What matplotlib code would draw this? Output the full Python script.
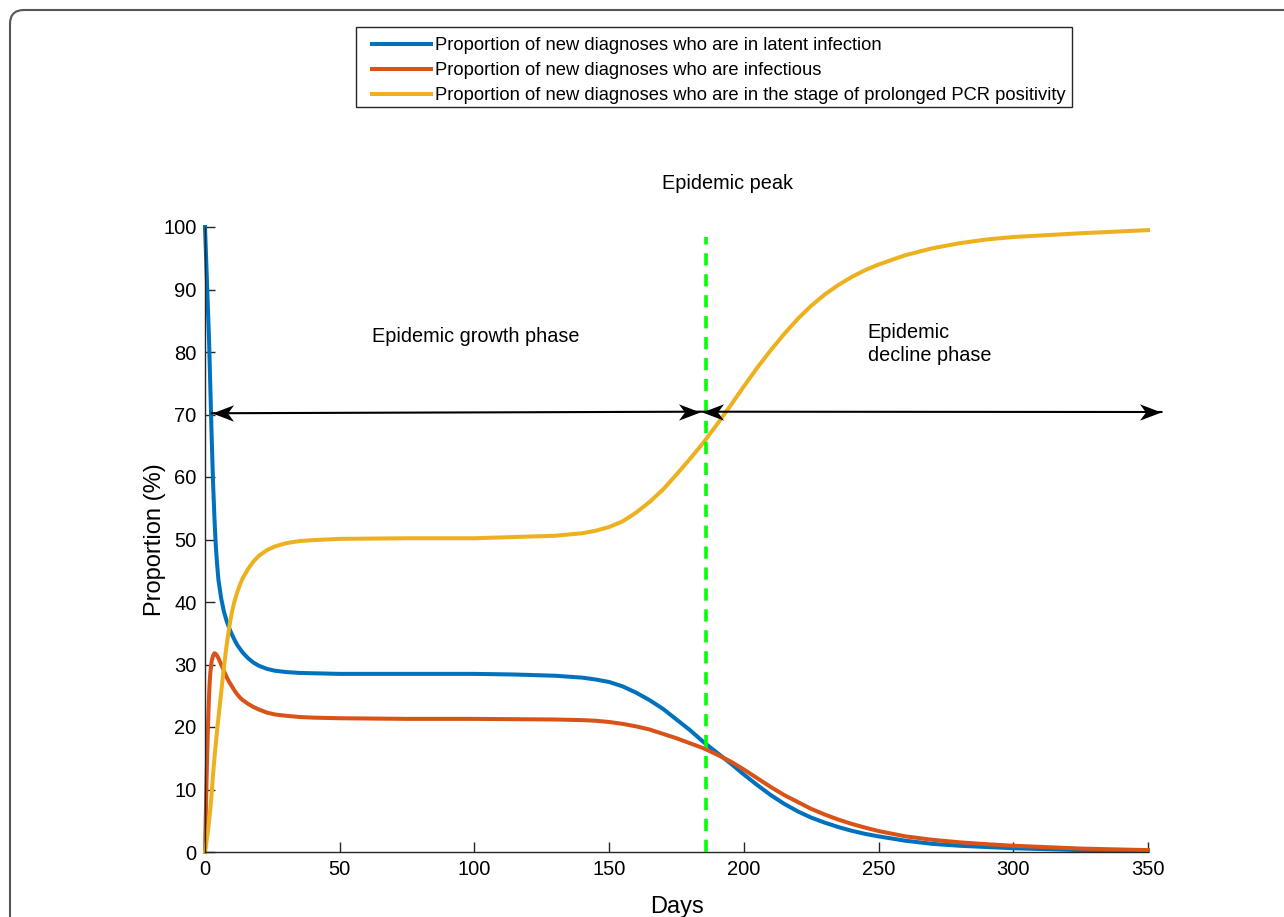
import matplotlib
matplotlib.use("Agg")
import matplotlib.pyplot as plt
from matplotlib.path import Path
from matplotlib.patches import FancyBboxPatch, Rectangle
from matplotlib.transforms import IdentityTransform

plt.rcParams['font.family'] = ['Liberation Sans', 'DejaVu Sans']

# ---- data ----
days = [0, 0.25, 0.5, 0.75, 1, 1.25, 1.5, 1.75, 2, 2.5, 3, 3.5, 4, 4.5, 5, 6, 7, 8, 9,
        10, 11, 12, 13, 14, 16, 18, 20, 23, 26, 30, 35, 40, 50, 75, 100, 115,
        130, 140, 145, 150, 155, 160, 165, 170, 175, 180,
        185, 190, 195, 200, 205, 210, 215, 220, 225, 230,
        235, 240, 245, 250, 260, 270, 280, 290, 300, 325, 350]

latent = [100, 97, 94, 91, 88, 85, 82, 78, 74, 66, 59, 53.5, 49, 46, 43.5, 40.6, 38.5,
          37, 35.8, 34.8, 33.9, 33.1, 32.5, 31.9, 31.0, 30.3, 29.8, 29.3, 29.0, 28.8,
          28.65, 28.6, 28.5, 28.5, 28.5, 28.4,
          28.2, 27.9, 27.6, 27.2, 26.5, 25.5, 24.3, 22.9, 21.2, 19.5,
          17.6, 15.9, 14.2, 12.4, 10.7, 9.1, 7.7, 6.5, 5.5, 4.7,
          4.0, 3.4, 2.9, 2.5, 1.8, 1.3, 1.0, 0.8, 0.6, 0.3, 0.2]

infectious = [0, 5, 10, 14.5, 18.5, 22, 25, 27.3, 28.8, 30.6, 31.4, 31.8, 31.7, 31.4,
              31.0, 30.0, 29.0, 28.0, 27.2, 26.5, 25.8, 25.2, 24.7, 24.3, 23.7, 23.2,
              22.8, 22.3, 22.0, 21.8, 21.6, 21.5, 21.4, 21.3, 21.3, 21.25,
              21.2, 21.1, 21.0, 20.8, 20.5, 20.1, 19.6, 18.9, 18.2, 17.4,
              16.6, 15.6, 14.5, 13.2, 11.8, 10.4, 9.1, 8.0, 6.9, 6.0,
              5.2, 4.5, 3.9, 3.35, 2.5, 1.95, 1.55, 1.25, 1.0, 0.55, 0.3]

prolonged = [0, 0.7, 1.5, 2.3, 3.1, 4, 5, 6, 7, 9.5, 12.5, 15, 17.3, 19.5, 21.5, 25.5,
             29.5, 33, 36, 38.4, 40.2, 41.6, 42.8, 43.8, 45.3, 46.5, 47.4, 48.3, 48.9,
             49.4, 49.75, 49.9, 50.1, 50.2, 50.2, 50.4,
             50.6, 51.0, 51.4, 52.0, 52.9, 54.3, 56.0, 58.0, 60.4, 62.9,
             65.5, 68.4, 71.4, 74.5, 77.5, 80.3, 82.9, 85.3, 87.4, 89.2,
             90.7, 92.0, 93.1, 94.0, 95.5, 96.6, 97.4, 98.0, 98.4, 99.0, 99.5]

labels = ["Proportion of new diagnoses who are in latent infection",
          "Proportion of new diagnoses who are infectious",
          "Proportion of new diagnoses who are in the stage of prolonged PCR positivity"]
colors = ["#0072BD", "#D95319", "#EDB120"]

peak_day = 186
xticks = [0, 50, 100, 150, 200, 250, 300, 350]
yticks = [0, 10, 20, 30, 40, 50, 60, 70, 80, 90, 100]

# ---- figure ----
W, H = 1284, 917
fig = plt.figure(figsize=(W/100, H/100), dpi=100)
ax = fig.add_axes([205/W, 1-852/H, (1148-205)/W, (852-227)/H])

# rounded outer frame
frame = FancyBboxPatch((10, -40), 1320, H-10+40, boxstyle="round,pad=0,rounding_size=14",
                       transform=IdentityTransform(), fill=False, edgecolor="#555555",
                       linewidth=1.5, zorder=0)
fig.patches.append(frame)

# legend box
legbox = Rectangle((356, H-107), 1072-356, 107-27, transform=IdentityTransform(),
                   fill=True, facecolor='white', edgecolor='#262626', linewidth=1,
                   zorder=1)
fig.patches.append(legbox)

lines = []
for y, c, l in zip([latent, infectious, prolonged], colors, labels):
    ln, = ax.plot(days, y, color=c, lw=2.9, label=l, solid_joinstyle='round',
                  clip_on=False)
    lines.append(ln)

# epidemic peak line
ax.plot([peak_day, peak_day], [0, 98.4], color="#00FF00", lw=2.6,
        dashes=(3.4, 2.4), zorder=3)

# double arrows
ax.plot([2.5, 183.7], [70.2, 70.45], color='black', lw=1.5, zorder=4)
ax.plot([184.3, 355], [70.45, 70.4], color='black', lw=1.5, zorder=4, clip_on=False)
right_head = Path([(0, 0), (-1, 0.38), (-0.72, 0), (-1, -0.38), (0, 0)],
                  [Path.MOVETO, Path.LINETO, Path.LINETO, Path.LINETO, Path.CLOSEPOLY])
left_head = Path([(0, 0), (1, 0.38), (0.72, 0), (1, -0.38), (0, 0)],
                 [Path.MOVETO, Path.LINETO, Path.LINETO, Path.LINETO, Path.CLOSEPOLY])
for (x, y, m) in [(2.5, 70.2, left_head), (183.7, 70.45, right_head),
                  (184.3, 70.45, left_head), (355, 70.4, right_head)]:
    ax.plot([x], [y], marker=m, ms=31, color='black', mew=0, linestyle='none',
            clip_on=False, zorder=5)

# annotations
ax.text(194, 107, "Epidemic peak", ha='center', va='center', fontsize=14.3)
ax.text(62, 82.4, "Epidemic growth phase", ha='left', va='center', fontsize=14.3)
ax.text(246, 81.3, "Epidemic\ndecline phase", ha='left', va='center', fontsize=14.3,
        linespacing=1.3)

# axes styling
ax.set_xlim(0, 350)
ax.set_ylim(0, 100)
ax.set_xticks(xticks)
ax.set_yticks(yticks)
ax.tick_params(direction='in', length=7, width=1, colors='#262626', labelsize=14.5,
               labelcolor='black', pad=6)
for s in ['top', 'right']:
    ax.spines[s].set_visible(False)
for s in ['left', 'bottom']:
    ax.spines[s].set_color('#262626')
    ax.spines[s].set_linewidth(1)
ax.set_xlabel("Days", fontsize=17, labelpad=12)
ax.set_ylabel("Proportion (%)", fontsize=17, labelpad=-2)

leg = fig.legend(handles=lines, labels=labels, loc='upper left',
                 bbox_to_anchor=(372/W, 1-37/H), borderaxespad=0, borderpad=0,
                 frameon=False, fontsize=13.2,
                 handlelength=3.2, handletextpad=0.25, labelspacing=0.45)
leg.set_zorder(2)

fig.savefig("out.png", dpi=100)
